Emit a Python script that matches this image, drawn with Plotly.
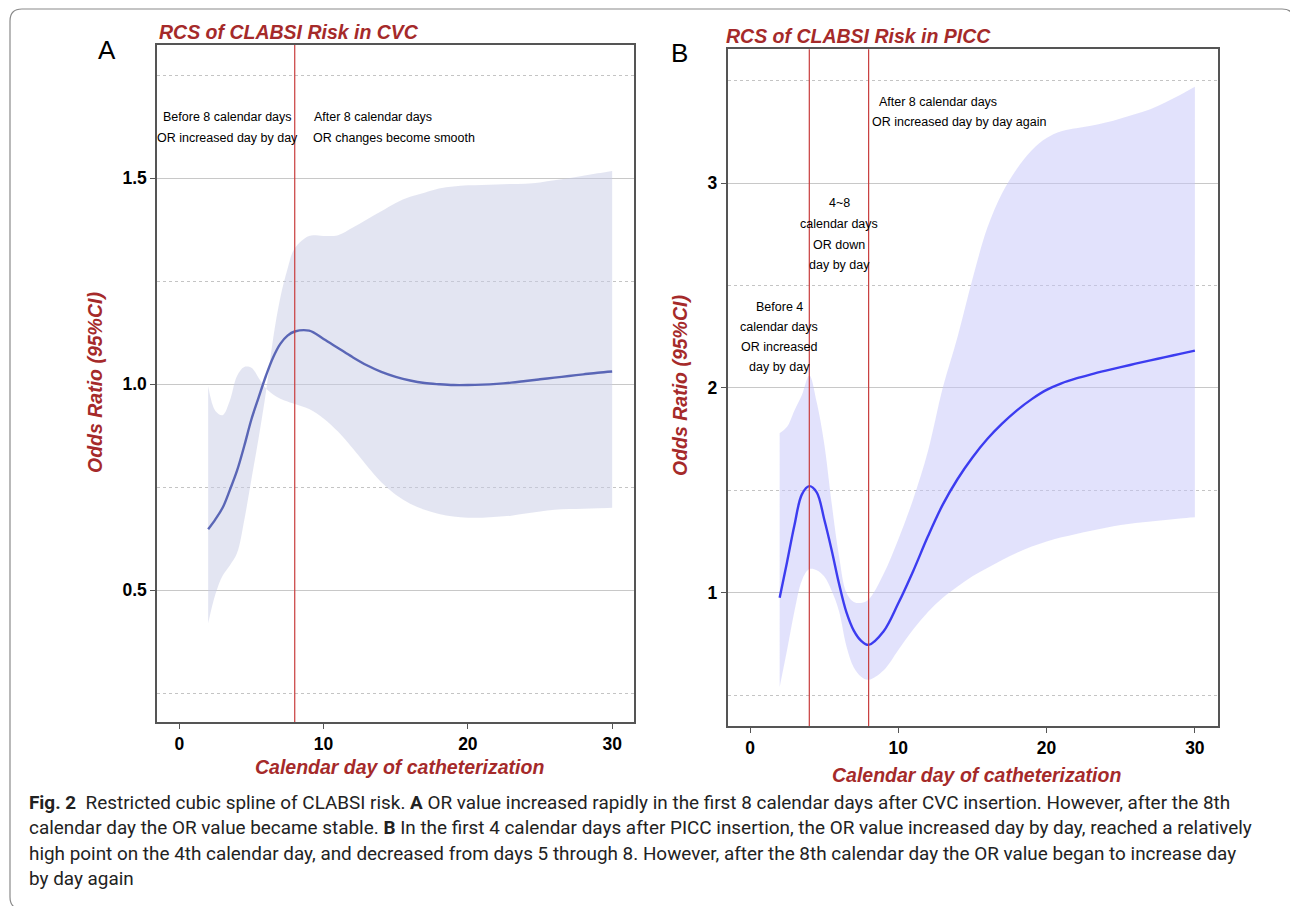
import plotly.graph_objects as go

# ---------------- data ----------------
days = [2, 2.5, 3, 3.5, 4, 4.5, 5, 5.5, 6, 6.5, 7, 7.5, 8,
        9, 10, 11, 12, 13, 14, 15, 16, 17, 18, 19, 20,
        21, 22, 23, 24, 25, 26, 27, 28, 29, 30]

# Panel A: CVC
or_cvc = [0.648, 0.672, 0.700, 0.743, 0.790, 0.850, 0.915, 0.968, 1.020, 1.065, 1.098, 1.118, 1.128,
          1.130, 1.110, 1.088, 1.066, 1.046, 1.030, 1.018, 1.009, 1.003, 1.000, 0.998, 0.998,
          0.999, 1.001, 1.004, 1.008, 1.012, 1.016, 1.020, 1.024, 1.028, 1.031]
ci_cvc_1 = [0.42, 0.49, 0.535, 0.56, 0.59, 0.67, 0.77, 0.87, 0.98, 1.11, 1.21, 1.28, 1.33,
            1.36, 1.36, 1.362, 1.38, 1.40, 1.42, 1.44, 1.455, 1.465, 1.475, 1.48, 1.483,
            1.484, 1.485, 1.486, 1.487, 1.49, 1.495, 1.50, 1.506, 1.512, 1.518]
ci_cvc_2 = [0.995, 0.935, 0.925, 0.960, 1.020, 1.042, 1.040, 1.015, 0.990, 0.975, 0.965, 0.958, 0.952,
            0.940, 0.917, 0.885, 0.845, 0.802, 0.762, 0.732, 0.710, 0.695, 0.685, 0.679, 0.676,
            0.676, 0.678, 0.681, 0.686, 0.691, 0.695, 0.697, 0.698, 0.699, 0.700]

# Panel B: PICC
or_picc = [0.975, 1.15, 1.33, 1.48, 1.52, 1.49, 1.36, 1.21, 1.045, 0.905, 0.815, 0.765, 0.745,
           0.81, 0.948, 1.105, 1.275, 1.43, 1.555, 1.66, 1.75, 1.825, 1.89, 1.945, 1.99,
           2.022, 2.046, 2.066, 2.084, 2.101, 2.118, 2.134, 2.15, 2.166, 2.182]
ci_picc_low = [0.54, 0.72, 0.91, 1.06, 1.115, 1.11, 1.08, 1.01, 0.91, 0.74, 0.635, 0.59, 0.575,
               0.62, 0.72, 0.82, 0.905, 0.975, 1.03, 1.08, 1.12, 1.16, 1.195, 1.225, 1.25,
               1.27, 1.287, 1.302, 1.317, 1.33, 1.34, 1.347, 1.355, 1.362, 1.368]
ci_picc_up = [1.778, 1.81, 1.89, 1.965, 2.06, 1.93, 1.73, 1.44, 1.18, 1.00, 0.955, 0.95, 0.967,
              1.09, 1.26, 1.455, 1.69, 2.00, 2.25, 2.53, 2.78, 2.95, 3.07, 3.16, 3.22,
              3.253, 3.267, 3.28, 3.295, 3.315, 3.337, 3.36, 3.393, 3.43, 3.47]

cut_cvc = [8]
cut_picc = [4, 8]

x_tick_vals = [0, 10, 20, 30]
x_tick_text = ["0", "10", "20", "30"]
y_tick_vals_a = [0.5, 1.0, 1.5]
y_tick_text_a = ["0.5", "1.0", "1.5"]
y_minor_a = [0.25, 0.75, 1.25, 1.75]
y_tick_vals_b = [1, 2, 3]
y_tick_text_b = ["1", "2", "3"]
y_minor_b = [0.5, 1.5, 2.5, 3.5]

# ---------------- figure ----------------
# the page body adds an 8px margin, so the figure is drawn at (8, 8)
OX, OY = 8, 8
W, H = 1290, 898
def px(x):
    return (x - OX) / W
def py(y):
    return 1 - (y - OY) / H

DARKRED = "#a52a2a"
FONT = "Liberation Sans, Arial, sans-serif"

fig = go.Figure()

# Panel A band + curve
fig.add_trace(go.Scatter(x=days, y=ci_cvc_1, mode="lines", line=dict(width=0, shape="spline"),
                         xaxis="x", yaxis="y", showlegend=False, hoverinfo="skip"))
fig.add_trace(go.Scatter(x=days, y=ci_cvc_2, mode="lines", line=dict(width=0, shape="spline"),
                         fill="tonexty", fillcolor="rgba(199,203,229,0.5)",
                         xaxis="x", yaxis="y", showlegend=False, hoverinfo="skip"))
fig.add_trace(go.Scatter(x=days, y=or_cvc, mode="lines",
                         line=dict(width=2.4, color="#5a66b6", shape="spline"),
                         xaxis="x", yaxis="y", showlegend=False))

# Panel B band + curve
fig.add_trace(go.Scatter(x=days, y=ci_picc_low, mode="lines", line=dict(width=0, shape="spline"),
                         xaxis="x2", yaxis="y2", showlegend=False, hoverinfo="skip"))
fig.add_trace(go.Scatter(x=days, y=ci_picc_up, mode="lines", line=dict(width=0, shape="spline"),
                         fill="tonexty", fillcolor="rgba(197,197,249,0.5)",
                         xaxis="x2", yaxis="y2", showlegend=False, hoverinfo="skip"))
fig.add_trace(go.Scatter(x=days, y=or_picc, mode="lines",
                         line=dict(width=2.4, color="#3c3cf0", shape="spline"),
                         xaxis="x2", yaxis="y2", showlegend=False))

tickfont = dict(family=FONT, size=17.5, color="black", weight="bold")
common_x = dict(showgrid=False, zeroline=False, showline=True, mirror=True, linecolor="#555555",
                linewidth=1.5, ticks="outside", ticklen=5, tickcolor="#555555",
                tickmode="array", tickvals=x_tick_vals, ticktext=x_tick_text, tickfont=tickfont)
common_y = dict(showgrid=True, gridcolor="#c8c8c8", gridwidth=1, zeroline=False, showline=True,
                mirror=True, linecolor="#555555", linewidth=1.5, ticks="outside", ticklen=5,
                tickcolor="#555555", tickmode="array", tickfont=tickfont)

fig.update_layout(
    width=W, height=H, margin=dict(l=0, r=0, t=0, b=0),
    paper_bgcolor="white", plot_bgcolor="white",
    xaxis=dict(domain=[px(157), px(633.5)], range=[-1.546, 31.48], anchor="y", **common_x),
    yaxis=dict(domain=[py(722), py(45)], range=[0.180, 1.8236], anchor="x",
               tickvals=y_tick_vals_a, ticktext=y_tick_text_a,
               minor=dict(tickmode="array", tickvals=y_minor_a, showgrid=True,
                          griddash="dot", gridcolor="#c4c4c4", ticks=""),
               **common_y),
    xaxis2=dict(domain=[px(727.5), px(1218)], range=[-1.517, 31.56], anchor="y2", **common_x),
    yaxis2=dict(domain=[py(726), py(49.3)], range=[0.349, 3.653], anchor="x2",
                tickvals=y_tick_vals_b, ticktext=y_tick_text_b,
                minor=dict(tickmode="array", tickvals=y_minor_b, showgrid=True,
                           griddash="dot", gridcolor="#c4c4c4", ticks=""),
                **common_y),
)

shapes = []
for c in cut_cvc:
    shapes.append(dict(type="line", xref="x", yref="y domain", x0=c, x1=c, y0=0, y1=1,
                       line=dict(color="#c83c3c", width=1.2)))
for c in cut_picc:
    shapes.append(dict(type="line", xref="x2", yref="y2 domain", x0=c, x1=c, y0=0, y1=1,
                       line=dict(color="#c83c3c", width=1.2)))

# outer rounded frame
l, r, t, b, rad = 10, 1294, 9, 909, 12
rx, ry = rad / W, rad / H
L, R, T, B = px(l), px(r), py(t), py(b)
path = (f"M {L+rx},{T} L {R-rx},{T} Q {R},{T} {R},{T-ry} L {R},{B+ry} Q {R},{B} {R-rx},{B} "
        f"L {L+rx},{B} Q {L},{B} {L},{B+ry} L {L},{T-ry} Q {L},{T} {L+rx},{T} Z")
shapes.append(dict(type="path", xref="paper", yref="paper", path=path,
                   line=dict(color="#8a8a8a", width=1.2), fillcolor="rgba(0,0,0,0)", layer="below"))
fig.update_layout(shapes=shapes)

ann = []
def add(text, x, y, size=12.5, color="black", xanchor="center", bold=False, italic=False,
        angle=0, family=FONT):
    f = dict(family=family, size=size, color=color)
    if bold:
        f["weight"] = "bold"
    if italic:
        f["style"] = "italic"
    ann.append(dict(text=text, x=px(x), y=py(y), xref="paper", yref="paper", showarrow=False,
                    xanchor=xanchor, yanchor="middle", font=f, textangle=angle))

# panel letters
add("A", 107, 50, size=26)
add("B", 679, 53, size=26)
# titles
add("RCS of CLABSI Risk in CVC", 288.5, 32, size=19.5, color=DARKRED, bold=True, italic=True)
add("RCS of CLABSI Risk in PICC", 858.5, 36.5, size=19.5, color=DARKRED, bold=True, italic=True)
# axis titles
add("Calendar day of catheterization", 399, 767, size=19.5, color=DARKRED, bold=True, italic=True)
add("Calendar day of catheterization", 976, 775, size=19.5, color=DARKRED, bold=True, italic=True)
add("Odds Ratio (95%CI)", 95, 383, size=19.5, color=DARKRED, bold=True, italic=True, angle=-90)
add("Odds Ratio (95%CI)", 680, 386, size=19.5, color=DARKRED, bold=True, italic=True, angle=-90)

# panel A notes
add("Before 8 calendar days", 227, 117)
add("OR increased day by day", 227, 138)
add("After 8 calendar days", 312, 117, xanchor="left")
add("OR changes become smooth", 311, 138, xanchor="left")

# panel B notes
add("After 8 calendar days", 877, 102, xanchor="left")
add("OR increased day by day again", 870, 122, xanchor="left")
for txt, yy in [("4~8", 203), ("calendar days", 224), ("OR down", 245), ("day by day", 265)]:
    add(txt, 839, yy)
for txt, yy in [("Before 4", 307), ("calendar days", 327), ("OR increased", 347), ("day by day", 367)]:
    add(txt, 779, yy)

# caption
cap_font = "Roboto, Noto Sans, sans-serif"
cap_lines = [
    "<b>Fig. 2</b>  Restricted cubic spline of CLABSI risk. <b>A</b> OR value increased rapidly in the first 8 calendar days after CVC insertion. However, after the 8th",
    "calendar day the OR value became stable. <b>B</b> In the first 4 calendar days after PICC insertion, the OR value increased day by day, reached a relatively",
    "high point on the 4th calendar day, and decreased from days 5 through 8. However, after the 8th calendar day the OR value began to increase day",
    "by day again",
]
for i, line in enumerate(cap_lines):
    add(line, 27, 802 + i * 25.6, size=18.9, color="#222222", xanchor="left", family=cap_font)

fig.update_layout(annotations=ann)
fig.write_html("out.html")
